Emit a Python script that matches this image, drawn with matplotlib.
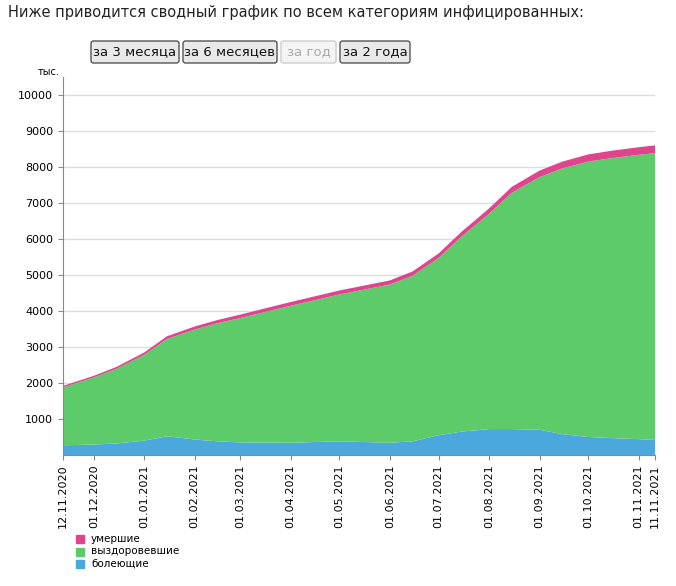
import numpy as np
import matplotlib.pyplot as plt
import matplotlib.dates as mdates
from datetime import datetime
from matplotlib.patches import FancyBboxPatch

dates = ['12.11.2020', '01.12.2020', '15.12.2020', '01.01.2021', '15.01.2021', '01.02.2021',
         '15.02.2021', '01.03.2021', '01.04.2021', '01.05.2021', '01.06.2021', '15.06.2021',
         '01.07.2021', '15.07.2021', '01.08.2021', '15.08.2021', '01.09.2021', '15.09.2021',
         '01.10.2021', '15.10.2021', '01.11.2021', '11.11.2021']
total = [1920, 2200, 2450, 2850, 3300, 3570, 3750, 3900, 4250, 4570, 4850, 5100,
         5600, 6200, 6850, 7450, 7900, 8150, 8350, 8450, 8550, 8600]
dead = [40, 45, 55, 65, 75, 85, 90, 95, 105, 110, 115, 120,
        125, 135, 150, 165, 180, 190, 200, 205, 210, 215]
sick = [270, 290, 320, 400, 520, 430, 380, 350, 340, 380, 340, 380,
        550, 650, 720, 720, 700, 580, 500, 470, 440, 420]

x = [datetime.strptime(d, '%d.%m.%Y') for d in dates]
total = np.array(total); dead = np.array(dead); sick = np.array(sick)
recovered = total - dead - sick

c_sick, c_rec, c_dead = '#4aa8dc', '#5ecb6a', '#e0448f'

fig = plt.figure(figsize=(6.76, 5.86), dpi=100)
ax = fig.add_axes([63/676, 1-455/586, 592/676, 378/586])
ax.stackplot(x, sick, recovered, dead, colors=[c_sick, c_rec, c_dead], linewidth=0)
ax.set_ylim(0, 10500)
ax.set_xlim(x[0], x[-1])
ax.set_yticks(range(1000, 10001, 1000))
ax.yaxis.grid(True, color='#dddddd', linewidth=1)
ax.set_axisbelow(True)
for s in ['top', 'right']:
    ax.spines[s].set_visible(False)
ax.spines['left'].set_color('#888888')
ax.spines['bottom'].set_color('#888888')
tick_dates = ['12.11.2020', '01.12.2020', '01.01.2021', '01.02.2021', '01.03.2021', '01.04.2021',
              '01.05.2021', '01.06.2021', '01.07.2021', '01.08.2021', '01.09.2021', '01.10.2021',
              '01.11.2021', '11.11.2021']
ax.set_xticks([datetime.strptime(d, '%d.%m.%Y') for d in tick_dates])
ax.set_xticklabels(tick_dates, rotation=90)
ax.tick_params(labelsize=8, color='#888888')
ax.text(-0.005, 1.0, 'тыс.', transform=ax.transAxes, fontsize=7, ha='right', va='bottom')

fig.text(8/676, 1-12/586, 'Ниже приводится сводный график по всем категориям инфицированных:',
         fontsize=10.5, va='center', color='#222222')

buttons = [('за 3 месяца', 91, 179, False), ('за 6 месяцев', 183, 277, False),
           ('за год', 281, 336, True), ('за 2 года', 340, 410, False)]
for label, x0, x1, dis in buttons:
    fig.patches.append(FancyBboxPatch((x0/676, 1-63/586), (x1-x0)/676, 22/586,
                                      boxstyle='round,pad=0,rounding_size=0.004',
                                      transform=fig.transFigure,
                                      facecolor='#f4f4f4' if dis else '#e9e9e9',
                                      edgecolor='#cccccc' if dis else '#555555', linewidth=1))
    fig.text((x0+x1)/2/676, 1-52/586, label, ha='center', va='center', fontsize=9.5,
             color='#aaaaaa' if dis else '#111111')

for i, (lab, col) in enumerate([('умершие', c_dead), ('выздоровевшие', c_rec), ('болеющие', c_sick)]):
    yy = 1-(539+i*12.5)/586
    fig.patches.append(plt.Rectangle((76/676, yy-4/586), 8/676, 8/586, color=col,
                                     transform=fig.transFigure))
    fig.text(91/676, yy, lab, fontsize=7.5, va='center')

fig.savefig('out.png')
